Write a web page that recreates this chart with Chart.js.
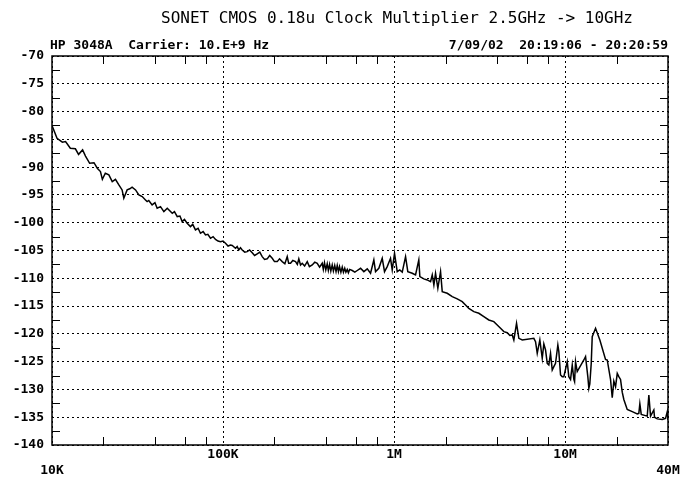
<!DOCTYPE html>
<html>
<head>
<meta charset="utf-8">
<script src="https://cdn.jsdelivr.net/npm/chart.js@4.4.1/dist/chart.umd.min.js"></script>
<style>
  html, body { margin: 0; padding: 0; background: #fff; }
  #wrap { width: 695px; height: 480px; }
</style>
</head>
<body>
<div id="wrap"><canvas id="phaseNoise"></canvas></div>
<script>
const titleText = 'SONET CMOS 0.18u Clock Multiplier 2.5GHz -> 10GHz';
const headerLeft = 'HP 3048A  Carrier: 10.E+9 Hz';
const headerRight = '7/09/02  20:19:06 - 20:20:59';

// offset frequency axis (Hz)
const xTickValues = [1e4, 1e5, 1e6, 1e7, 4e7];
const xTickLabels = ['10K', '100K', '1M', '10M', '40M'];
const xMinorValues = [2e4, 4e4, 6e4, 8e4, 2e5, 4e5, 6e5, 8e5, 2e6, 4e6, 6e6, 8e6, 2e7];

// dBc/Hz axis
const yMin = -140;
const yMax = -70;
const yStep = 5;
const yMinorValues = [-72.5, -77.5, -82.5, -87.5, -92.5, -97.5, -102.5, -107.5,
  -112.5, -117.5, -122.5, -127.5, -132.5, -137.5];

// trace (one row of freqHz matches the same row of noiseDbc)
const freqHz = [
  10000, 10700, 11500, 12000, 12800, 13700, 14300, 15100, 15700, 16600,
  17600, 18400, 19200, 19700, 20500, 21500, 22500, 23500, 24600, 25700,
  26300, 27500, 28500, 29400, 30800, 32200, 33700, 35200, 36000, 36800,
  38500, 40000, 41200, 43100, 45100, 47200, 50500, 52000, 54000, 56000,
  57700, 59500, 61700, 64500, 66500, 69000, 71500, 73800, 76500, 79000,
  81500, 84500, 87500, 90400, 93500, 96700, 100000, 103400, 107000, 110600,
  113200, 118300, 121000, 123700, 126500, 129500, 134000, 138500, 143000, 148200,
  153000, 158500, 164000, 169500, 175000, 181300, 187500, 194000, 200000, 207500,
  214000, 221900, 230000, 237400, 242000, 248200, 256000, 265500, 272000, 277500,
  284000, 290500, 300000, 310800, 320000, 332400, 344000, 355600, 367000,
  380300, 386000, 392000, 399000, 406800, 413000, 420000, 427000, 435100, 442000, 450000, 458000,
  465500, 473000, 480000, 489000, 497900, 506000, 515000, 523000, 532600, 541000, 550000,
  569700, 590000, 609400, 637100, 666100, 697300, 729000, 762100, 779700, 815100,
  853100, 879900, 912500, 953900, 976100, 1006700, 1044000, 1080000, 1117000, 1168000,
  1204000, 1278000, 1336000, 1396000, 1416000, 1494000, 1564000, 1635000, 1673000, 1710000,
  1749000, 1804000, 1871000, 1914000, 2047000, 2190000, 2342000, 2505000, 2619000, 2738000,
  2929000, 3133000, 3351000, 3584000, 3833000, 4013000, 4196000, 4387000, 4592000, 4756000,
  4912000, 5019000, 5205000, 5369000, 5621000, 6570000, 6722000, 6878000, 7123000, 7357000,
  7516000, 7691000, 7869000, 8041000, 8227000, 8417000, 8601000, 8799000, 9077000, 9199000,
  9412000, 9630000, 9840000, 10300000, 10520000, 10770000, 11020000, 11260000, 11370000, 11520000,
  11780000, 12880000, 13180000, 13590000, 13780000, 13960000, 14230000, 14420000, 15080000, 15980000,
  17250000, 17650000, 18450000, 18880000, 19290000, 19740000, 20200000, 20630000, 21110000, 21600000,
  22070000, 23100000, 24720000, 26440000, 27010000, 27380000, 27900000, 30250000, 30910000, 31620000,
  33060000, 33370000, 34610000, 37020000, 38700000, 39600000, 40000000
];
const noiseDbc = [
  -82.5, -84.8, -85.5, -85.4, -86.6, -86.7, -87.7, -86.9, -88.0, -89.3,
  -89.2, -90.2, -90.8, -92.2, -91.1, -91.4, -92.6, -92.2, -93.2, -94.1,
  -95.6, -94.1, -93.9, -93.6, -94.1, -95.0, -95.3, -95.9, -96.2, -96.0,
  -96.8, -96.4, -97.4, -97.1, -98.0, -97.4, -98.3, -98.0, -98.9, -98.8,
  -99.8, -99.4, -100.1, -100.7, -100.3, -101.3, -101.0, -101.9, -101.6, -102.2,
  -102.1, -102.8, -102.5, -103.0, -103.3, -103.4, -103.3, -103.7, -104.2, -104.0,
  -104.1, -104.6, -104.3, -104.9, -104.5, -104.9, -105.3, -105.2, -104.9, -105.4,
  -105.9, -105.6, -105.3, -106.1, -106.6, -106.5, -105.9, -106.4, -107.0, -107.0,
  -106.5, -107.0, -107.4, -106.1, -107.3, -107.3, -106.8, -107.0, -107.5, -106.5,
  -107.6, -107.3, -107.8, -107.0, -107.9, -107.6, -107.1, -107.3, -108.0,
  -107.3, -108.4, -107.2, -108.5, -107.4, -108.6, -107.5, -108.7, -107.6, -108.7, -107.7, -108.8,
  -107.7, -108.8, -107.9, -108.9, -108.0, -108.9, -108.2, -108.9, -108.4, -109.0, -108.4,
  -108.6, -108.9, -108.6, -108.2, -108.8, -108.3, -109.1, -106.7, -108.8, -108.2,
  -106.4, -108.8, -107.9, -106.4, -108.5, -105.5, -108.8, -108.5, -108.9, -106.1,
  -108.8, -109.1, -109.4, -106.7, -109.7, -110.1, -110.3, -110.6, -109.4, -111.2,
  -109.1, -111.8, -108.8, -112.4, -112.7, -113.3, -113.7, -114.2, -114.8, -115.4,
  -116.0, -116.3, -116.9, -117.5, -117.8, -118.4, -119.0, -119.6, -119.8, -120.3,
  -120.2, -121.1, -118.1, -120.8, -121.1, -120.8, -121.4, -123.5, -121.1, -124.4,
  -121.8, -122.9, -125.3, -125.6, -123.5, -126.5, -125.9, -125.3, -122.0, -123.2,
  -127.4, -127.7, -127.7, -125.0, -127.7, -128.2, -125.6, -128.2, -128.6, -125.0,
  -126.8, -124.7, -124.1, -127.7, -129.8, -129.0, -125.3, -120.5, -119.0, -121.1,
  -124.6, -124.7, -128.2, -131.5, -128.5, -129.5, -127.1, -127.7, -128.2, -130.5,
  -131.8, -133.6, -134.0, -134.4, -134.3, -132.6, -134.5, -134.8, -131.0, -134.8,
  -133.7, -135.0, -135.3, -135.4, -135.2, -134.0, -135.5
];

// minor ticks (inward), frame and header texts
const frameAndText = {
  id: 'frameAndText',
  afterDraw(chart) {
    const { ctx, chartArea: a, scales: { x, y } } = chart;
    ctx.save();
    ctx.strokeStyle = '#000';
    ctx.lineWidth = 1;
    ctx.beginPath();
    xMinorValues.forEach(v => {
      const px = Math.round(x.getPixelForValue(v)) + 0.5;
      ctx.moveTo(px, a.bottom); ctx.lineTo(px, a.bottom - 8);
      ctx.moveTo(px, a.top); ctx.lineTo(px, a.top + 8);
    });
    yMinorValues.forEach(v => {
      const py = Math.round(y.getPixelForValue(v)) + 0.5;
      ctx.moveTo(a.left, py); ctx.lineTo(a.left + 8, py);
      ctx.moveTo(a.right, py); ctx.lineTo(a.right - 8, py);
    });
    ctx.stroke();
    ctx.lineWidth = 1.5;
    ctx.strokeRect(a.left, a.top, a.right - a.left, a.bottom - a.top);

    ctx.fillStyle = '#000';
    ctx.textBaseline = 'middle';
    ctx.font = '16px "DejaVu Sans Mono"';
    ctx.textAlign = 'center';
    ctx.fillText(titleText, 397, 19);
    ctx.font = 'bold 13px "DejaVu Sans Mono"';
    ctx.textAlign = 'left';
    ctx.fillText(headerLeft, a.left - 2, 46);
    ctx.textAlign = 'right';
    ctx.fillText(headerRight, a.right, 46);
    ctx.restore();
  }
};

Chart.defaults.font.family = '"DejaVu Sans Mono"';
Chart.defaults.color = '#000';

new Chart(document.getElementById('phaseNoise').getContext('2d'), {
  type: 'line',
  data: {
    datasets: [{
      label: 'L(f)',
      data: freqHz.map((f, i) => ({ x: f, y: noiseDbc[i] })),
      borderColor: '#000',
      borderWidth: 1.5,
      pointRadius: 0,
      fill: false,
      tension: 0
    }]
  },
  options: {
    responsive: true,
    maintainAspectRatio: false,
    animation: false,
    layout: { padding: { top: 56, right: 27, left: 0, bottom: 0 } },
    plugins: {
      legend: { display: false },
      tooltip: { enabled: false }
    },
    scales: {
      x: {
        type: 'logarithmic',
        min: 1e4,
        max: 4e7,
        afterBuildTicks: scale => {
          scale.ticks = xTickValues.map(v => ({ value: v }));
        },
        afterFit: scale => { scale.height = 35; },
        ticks: {
          autoSkip: false,
          maxRotation: 0,
          padding: 2,
          font: { size: 13, weight: 'bold' },
          callback: (value, index) => {
            const label = xTickLabels[index];
            // first and last labels sit one line lower
            return (index === 0 || index === xTickLabels.length - 1) ? ['', label] : label;
          }
        },
        grid: { color: '#000', lineWidth: 1, drawTicks: false },
        border: { display: false, dash: [2, 3] }
      },
      y: {
        min: yMin,
        max: yMax,
        afterFit: scale => { scale.width = 52; },
        ticks: {
          stepSize: yStep,
          padding: 8,
          font: { size: 13, weight: 'bold' }
        },
        grid: { color: '#000', lineWidth: 1, drawTicks: false },
        border: { display: false, dash: [2, 3] }
      }
    }
  },
  plugins: [frameAndText]
});
</script>
</body>
</html>
